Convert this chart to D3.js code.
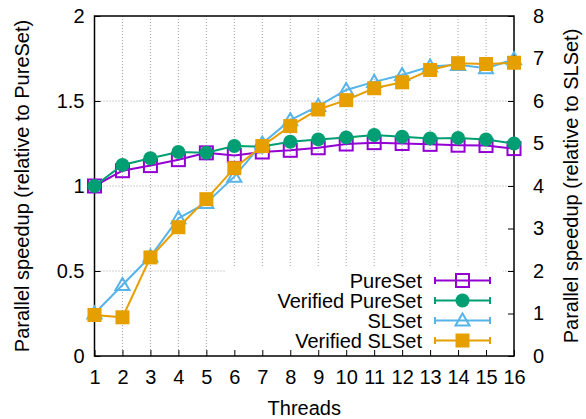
<!DOCTYPE html>
<html>
<head>
<meta charset="utf-8">
<script src="https://cdn.jsdelivr.net/npm/d3@7"></script>
<style>
  body { margin: 0; background: #fff; }
  text { font-family: "Liberation Sans", Arial, sans-serif; fill: #000; }
</style>
</head>
<body>
<script>
const threads = d3.range(1, 17);
const pureSet = [1.0, 1.09, 1.12, 1.155, 1.195, 1.18, 1.2, 1.21, 1.225, 1.247, 1.255, 1.25, 1.245, 1.24, 1.238, 1.22];
const verifiedPureSet = [1.0, 1.124, 1.163, 1.2, 1.196, 1.235, 1.232, 1.26, 1.274, 1.286, 1.3, 1.29, 1.28, 1.283, 1.274, 1.25];
const slSet = [1.0, 1.67, 2.34, 3.24, 3.6, 4.22, 5.0, 5.55, 5.88, 6.26, 6.45, 6.61, 6.81, 6.85, 6.77, 6.98];
const verifiedSlSet = [0.965, 0.91, 2.32, 3.03, 3.69, 4.42, 4.94, 5.41, 5.8, 6.02, 6.3, 6.44, 6.73, 6.89, 6.87, 6.9];
const leftTicks = [0, 0.5, 1, 1.5, 2];
const rightTicks = [0, 1, 2, 3, 4, 5, 6, 7, 8];

const width = 586;
const height = 419;
const plotLeft = 94.5, plotRight = 514, plotTop = 16, plotBottom = 356;
const fontSize = 20;

const svg = d3.select("body").append("svg")
  .attr("width", width)
  .attr("height", height);

const x = d3.scaleLinear().domain([1, 16]).range([plotLeft, plotRight]);
const y = d3.scaleLinear().domain([0, 2]).range([plotBottom, plotTop]);
const y2 = d3.scaleLinear().domain([0, 8]).range([plotBottom, plotTop]);

// grid
const grid = svg.append("g")
  .attr("stroke", "#a0a0a0")
  .attr("stroke-width", 1)
  .attr("stroke-dasharray", "1,2");
grid.selectAll(".vg").data(threads.slice(1, 15)).enter().append("line")
  .attr("x1", (d) => x(d)).attr("x2", (d) => x(d))
  .attr("y1", plotBottom).attr("y2", plotTop);
grid.selectAll(".hg").data(leftTicks.slice(1, 4)).enter().append("line")
  .attr("x1", plotLeft).attr("x2", plotRight)
  .attr("y1", (d) => y(d)).attr("y2", (d) => y(d));

// legend background covers the grid
svg.append("rect")
  .attr("x", 226).attr("y", 268)
  .attr("width", 277).attr("height", 88)
  .attr("fill", "#fff");

// axes
svg.append("g")
  .attr("transform", "translate(0," + plotBottom + ")")
  .call(d3.axisBottom(x).tickValues(threads).tickSize(-6).tickPadding(14).tickFormat(d3.format("d")));
svg.append("g")
  .attr("transform", "translate(" + plotLeft + ",0)")
  .call(d3.axisLeft(y).tickValues(leftTicks).tickSize(-6).tickPadding(10).tickFormat((d) => String(d)));
svg.append("g")
  .attr("transform", "translate(" + plotRight + ",0)")
  .call(d3.axisRight(y2).tickValues(rightTicks).tickSize(-6).tickPadding(19));
svg.selectAll(".tick text").attr("font-size", fontSize).style("font-family", '"Liberation Sans", Arial, sans-serif');
svg.selectAll(".domain").remove();
svg.selectAll(".tick line").attr("stroke", "#000");

svg.append("rect")
  .attr("x", plotLeft).attr("y", plotTop)
  .attr("width", plotRight - plotLeft).attr("height", plotBottom - plotTop)
  .attr("fill", "none").attr("stroke", "#000").attr("stroke-width", 1.5);

// labels
svg.append("text").attr("x", (plotLeft + plotRight) / 2).attr("y", 415)
  .attr("text-anchor", "middle").attr("font-size", fontSize).text("Threads");
svg.append("text")
  .attr("transform", "translate(29," + (plotTop + plotBottom) / 2 + ") rotate(-90)")
  .attr("text-anchor", "middle").attr("font-size", fontSize)
  .text("Parallel speedup (relative to PureSet)");
svg.append("text")
  .attr("transform", "translate(578," + (plotTop + plotBottom) / 2 + ") rotate(-90)")
  .attr("text-anchor", "middle").attr("font-size", fontSize)
  .text("Parallel speedup (relative to SLSet)");

const series = [
  { name: "PureSet", values: pureSet, scale: y, color: "#9400d3", marker: "openSquare" },
  { name: "Verified PureSet", values: verifiedPureSet, scale: y, color: "#009e73", marker: "circle" },
  { name: "SLSet", values: slSet, scale: y2, color: "#56b4e9", marker: "openTriangle" },
  { name: "Verified SLSet", values: verifiedSlSet, scale: y2, color: "#e69f00", marker: "square" }
];

function drawMarker(g, type, color) {
  if (type === "openSquare") {
    g.append("rect").attr("x", -6.5).attr("y", -6.5).attr("width", 13).attr("height", 13)
      .attr("fill", "none").attr("stroke", color).attr("stroke-width", 2);
  } else if (type === "square") {
    g.append("rect").attr("x", -7).attr("y", -7).attr("width", 14).attr("height", 14)
      .attr("fill", color);
  } else if (type === "circle") {
    g.append("circle").attr("r", 7).attr("fill", color);
  } else {
    g.append("path").attr("d", "M0,-7L7,5L-7,5Z")
      .attr("fill", "none").attr("stroke", color).attr("stroke-width", 2);
  }
}

const line = (s) => d3.line().x((d, i) => x(threads[i])).y((d) => s.scale(d));

series.forEach((s) => {
  svg.append("path")
    .datum(s.values)
    .attr("d", line(s))
    .attr("fill", "none")
    .attr("stroke", s.color)
    .attr("stroke-width", 2);
  svg.append("g").selectAll("g").data(s.values).enter().append("g")
    .attr("transform", (d, i) => "translate(" + x(threads[i]) + "," + s.scale(d) + ")")
    .each(function () { drawMarker(d3.select(this), s.marker, s.color); });
});

// legend
const legend = svg.append("g");
series.forEach((s, i) => {
  const ly = 280.5 + i * 20;
  legend.append("text").attr("x", 422).attr("y", ly).attr("dy", "0.35em")
    .attr("text-anchor", "end").attr("font-size", fontSize).text(s.name);
  const g = legend.append("g").attr("stroke", s.color).attr("stroke-width", 2);
  g.append("line").attr("x1", 435).attr("x2", 490).attr("y1", ly).attr("y2", ly);
  g.append("line").attr("x1", 435).attr("x2", 435).attr("y1", ly - 3.5).attr("y2", ly + 3.5);
  g.append("line").attr("x1", 490).attr("x2", 490).attr("y1", ly - 3.5).attr("y2", ly + 3.5);
  drawMarker(legend.append("g").attr("transform", "translate(462.5," + ly + ")"), s.marker, s.color);
});
</script>
</body>
</html>
